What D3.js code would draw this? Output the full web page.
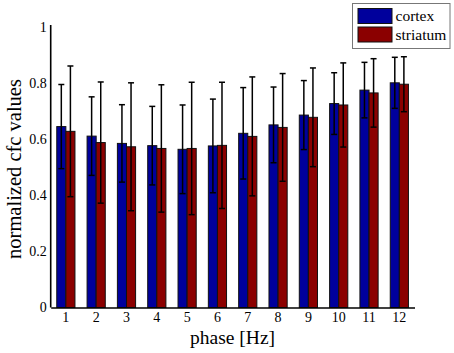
<!DOCTYPE html>
<html>
<head>
<meta charset="utf-8">
<script src="https://d3js.org/d3.v7.min.js"></script>
<style>
  body { margin: 0; background: #fff; }
  svg text { font-family: 'Liberation Serif', 'DejaVu Serif', serif; fill: #000; }
</style>
</head>
<body>
<div id="chart"></div>
<script>
// phase bins (Hz)
const phases = ["1","2","3","4","5","6","7","8","9","10","11","12"];
const seriesNames = ["cortex", "striatum"];
// mean normalized cfc values
const cortexMean   = [0.645, 0.611, 0.585, 0.577, 0.564, 0.576, 0.621, 0.651, 0.686, 0.727, 0.775, 0.801];
const striatumMean = [0.628, 0.588, 0.573, 0.567, 0.567, 0.578, 0.610, 0.642, 0.678, 0.722, 0.765, 0.796];
// error (half length of the error bar)
const cortexErr    = [0.150, 0.140, 0.138, 0.140, 0.158, 0.167, 0.163, 0.135, 0.123, 0.110, 0.099, 0.091];
const striatumErr  = [0.233, 0.216, 0.228, 0.227, 0.236, 0.225, 0.212, 0.192, 0.176, 0.150, 0.122, 0.098];
const yTicks = [0, 0.2, 0.4, 0.6, 0.8, 1];

const colors = { cortex: "#00009c", striatum: "#8b0000" };
const serif = "'Liberation Serif', 'DejaVu Serif', serif";

const width = 454, height = 353;
const plotLeft = 50.7, plotRight = 414.5, plotBottom = 307.5, plotTop = 27;

const svg = d3.select("#chart").append("svg")
    .attr("width", width)
    .attr("height", height)
    .attr("font-family", serif);

// scales
const x = d3.scaleBand()
    .domain(phases)
    .range([plotLeft, plotRight])
    .paddingInner(0.4)
    .paddingOuter(0.2);

const xSub = d3.scaleBand()
    .domain(seriesNames)
    .range([0, x.bandwidth()]);

const y = d3.scaleLinear()
    .domain([0, 1])
    .range([plotBottom, plotTop]);

// build rows from the arrays
const rows = [];
phases.forEach(function(p, i) {
    rows.push({ phase: p, series: "cortex", mean: cortexMean[i], err: cortexErr[i] });
    rows.push({ phase: p, series: "striatum", mean: striatumMean[i], err: striatumErr[i] });
});

// bars
svg.append("g").selectAll("rect")
    .data(rows)
    .join("rect")
    .attr("x", d => x(d.phase) + xSub(d.series))
    .attr("y", d => y(d.mean))
    .attr("width", xSub.bandwidth())
    .attr("height", d => y(0) - y(d.mean))
    .attr("fill", d => colors[d.series])
    .attr("stroke", "#111")
    .attr("stroke-width", 1);

// error bars
const cap = 3;
const eb = svg.append("g").selectAll("g")
    .data(rows)
    .join("g")
    .attr("stroke", "#000")
    .attr("stroke-width", 1.5);

const cx = d => x(d.phase) + xSub(d.series) + xSub.bandwidth() / 2;

eb.append("line")
    .attr("x1", cx).attr("x2", cx)
    .attr("y1", d => y(d.mean - d.err))
    .attr("y2", d => y(d.mean + d.err));
eb.append("line")
    .attr("x1", d => cx(d) - cap).attr("x2", d => cx(d) + cap)
    .attr("y1", d => y(d.mean + d.err))
    .attr("y2", d => y(d.mean + d.err));
eb.append("line")
    .attr("x1", d => cx(d) - cap).attr("x2", d => cx(d) + cap)
    .attr("y1", d => y(d.mean - d.err))
    .attr("y2", d => y(d.mean - d.err));

// axes
const xAxis = svg.append("g")
    .attr("transform", "translate(0," + plotBottom + ")")
    .call(d3.axisBottom(x).tickSize(0).tickPadding(5));

const yAxis = svg.append("g")
    .attr("transform", "translate(" + plotLeft + ",0)")
    .call(d3.axisLeft(y).tickValues(yTicks).tickFormat(d => String(d)).tickSize(0).tickPadding(4));

[xAxis, yAxis].forEach(function(a) {
    a.attr("font-family", serif).attr("font-size", 14);
    a.select(".domain").attr("stroke", "#000").attr("stroke-width", 1.6);
    a.selectAll("text").attr("fill", "#000");
});
yAxis.select(".domain").attr("d", "M0," + (plotTop - 2) + "V" + plotBottom);

// axis titles
svg.append("text")
    .attr("x", (plotLeft + plotRight) / 2)
    .attr("y", 343.5)
    .attr("text-anchor", "middle")
    .attr("font-size", 19.5)
    .text("phase [Hz]");

svg.append("text")
    .attr("transform", "translate(20.5," + 169 + ") rotate(-90)")
    .attr("text-anchor", "middle")
    .attr("font-size", 20.5)
    .text("normalized cfc values");

// legend
const legend = svg.append("g");
legend.append("rect")
    .attr("x", 352.5).attr("y", 3.5)
    .attr("width", 97.5).attr("height", 45)
    .attr("fill", "#fff")
    .attr("stroke", "#777")
    .attr("stroke-width", 1);

seriesNames.forEach(function(s, i) {
    legend.append("rect")
        .attr("x", 358).attr("y", 8.5 + i * 18.5)
        .attr("width", 34).attr("height", 15)
        .attr("fill", colors[s])
        .attr("stroke", "#111")
        .attr("stroke-width", 1);
    legend.append("text")
        .attr("x", 395.5).attr("y", 20.5 + i * 19.5)
        .attr("font-size", 15.5)
        .text(s);
});
</script>
</body>
</html>
